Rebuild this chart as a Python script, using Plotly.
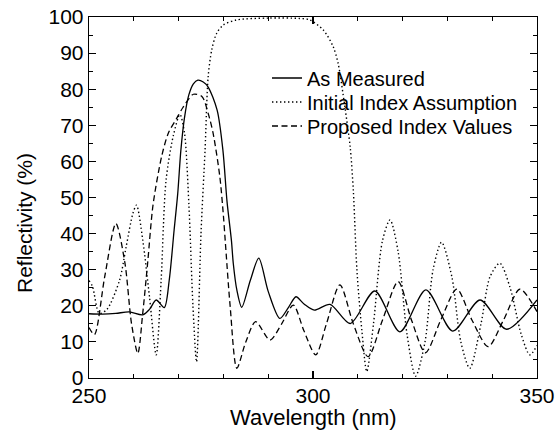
import plotly.graph_objects as go

# As Measured (solid)
meas_wl = [250, 253, 256, 259, 262, 263.5, 265, 266.8, 267.9, 269, 269.8, 270.5, 271.3, 272.3, 273.3, 274.3,
           275.5, 276.6, 278.6, 279.9, 280.8, 281.8, 282.2, 283, 284.1, 286, 287.9, 290, 292.6, 294.5, 296.2,
           298, 300.3, 303.8, 308.3, 313.8, 319.4, 325.2, 331.2, 337.3, 343.2, 350]
meas_r = [17.8, 17.7, 17.9, 18.3, 17.5, 19, 21.6, 19.5, 27, 41, 51, 63, 72, 78.5, 81.5, 82.5,
          82, 80.6, 74.2, 63, 49, 38, 31.8, 24.4, 19.6, 27, 33.2, 24, 16.5, 19.5, 22.5,
          20.5, 18.8, 20.4, 15.1, 24.1, 12.8, 24.4, 13.0, 21.6, 13.5, 21.6]

# Initial Index Assumption (dotted)
init_wl = [250, 250.8, 252.3, 254, 256.8, 258.3, 259.8, 260.6, 262, 263.5, 265, 266.1, 267.2, 268.8, 270.3,
           271.3, 272.3, 273.2, 274, 275, 275.9, 276.6, 277.4, 278.5, 280, 283, 290, 297, 299.3, 302.3,
           304.5, 305.6, 307.1, 308.3, 309, 309.8, 310.9, 312, 313.5, 315.5, 317.2, 319, 321, 322.9,
           325, 326.8, 328.7, 331, 333, 335, 337.5, 339.5, 341.7, 344, 346.5, 348.4, 350]
init_r = [27, 25.3, 17.9, 19, 27, 36.4, 45.6, 47.9, 38.2, 22.5, 6.4, 27, 54.8, 67, 73,
          68, 48, 20, 4.5, 40, 63, 83.5, 90.9, 95.5, 97.8, 99.2, 99.7, 99.6, 99.2, 96.4,
          91.8, 87.2, 75.2, 64, 52, 30, 13.3, 1.8, 15, 38, 43.8, 35, 12, 0.5,
          10, 30, 37.6, 28, 10, 2.7, 15, 28, 31.8, 25, 12, 6.4, 9]

# Proposed Index Values (dashed)
prop_wl = [250, 251.2, 253.5, 256, 258, 259.5, 260.9, 262, 263.1, 264.3, 266.2, 267.7, 269.6, 271, 273.3,
           275.2, 276.6, 277.7, 279.2, 280, 280.4, 281.5, 283, 285, 287.2, 290.4, 293, 295.6, 298, 300.6,
           303, 306, 309, 312.3, 315.5, 319, 322, 325.1, 328.5, 332.1, 335.5, 339.1, 342.5, 346.2, 350]
prop_r = [14, 12, 28, 42.8, 32, 15, 6.8, 18, 32, 48, 61.3, 67.8, 72, 75, 78.6,
          78, 73.3, 67.8, 55.8, 45, 38.2, 20, 2.7, 10, 15.6, 10.5, 15, 20.2, 13, 6.4,
          15, 25.8, 15, 5.9, 16, 26.7, 16, 7.0, 16, 24.6, 16, 8.7, 16, 24.6, 18.4]

FONT = "Liberation Sans, Arial, sans-serif"

fig = go.Figure()
fig.add_trace(go.Scatter(x=meas_wl, y=meas_r, mode="lines", name="As Measured", legend="legend",
                         line=dict(color="black", width=1.3, shape="spline", smoothing=0.8)))
fig.add_trace(go.Scatter(x=init_wl, y=init_r, mode="lines", name="Initial Index Assumption", legend="legend2",
                         line=dict(color="black", width=1.4, dash="1.4px,2.6px", shape="spline", smoothing=0.8)))
fig.add_trace(go.Scatter(x=prop_wl, y=prop_r, mode="lines", name="Proposed Index Values", legend="legend3",
                         line=dict(color="black", width=1.3, dash="6px,3.5px", shape="spline", smoothing=0.8)))

axis_common = dict(showgrid=False, zeroline=False, showline=True, linecolor="black", linewidth=1.3,
                   mirror="allticks", ticks="inside", tickcolor="black", ticklen=7, tickwidth=1.2,
                   automargin=False,
                   tickfont=dict(family=FONT, size=21, color="black"))

fig.update_xaxes(range=[250, 350], dtick=50, tick0=250, ticklabelstandoff=-2,
                 minor=dict(dtick=10, ticks="inside", ticklen=4, tickcolor="black", tickwidth=1),
                 **axis_common)
fig.update_yaxes(range=[0, 100], dtick=10, tick0=0,
                 minor=dict(dtick=5, ticks="inside", ticklen=4, tickcolor="black", tickwidth=1),
                 **axis_common)

PL, PT, PW, PH = 89, 17, 448, 361

def px_x(p):
    return (p - PL) / PW

def px_y(p):
    return (PT + PH - p) / PH

fig.add_annotation(text="Reflectivity (%)", xref="paper", yref="paper", x=px_x(24), y=px_y(223),
                   textangle=-90, showarrow=False, xanchor="center", yanchor="middle",
                   font=dict(family=FONT, size=21, color="black"))
fig.add_annotation(text="Wavelength (nm)", xref="paper", yref="paper", x=0.5, y=px_y(417),
                   showarrow=False, xanchor="center", yanchor="middle",
                   font=dict(family=FONT, size=22, color="black"))

leg_common = dict(xanchor="left", yanchor="middle", bgcolor="rgba(0,0,0,0)", borderwidth=0,
                  font=dict(family=FONT, size=20, color="black"))
fig.update_layout(
    width=559, height=446,
    margin=dict(l=PL, r=559 - PL - PW, t=PT, b=446 - PT - PH, autoexpand=False),
    plot_bgcolor="white", paper_bgcolor="white",
    showlegend=True,
    legend=dict(x=px_x(267), y=px_y(78), **leg_common),
    legend2=dict(x=px_x(267), y=px_y(102), **leg_common),
    legend3=dict(x=px_x(267), y=px_y(126), **leg_common),
)

fig.write_html("out.html", config={"displayModeBar": False, "staticPlot": True},
               post_script="document.body.style.margin='0';document.body.style.overflow='hidden';")
